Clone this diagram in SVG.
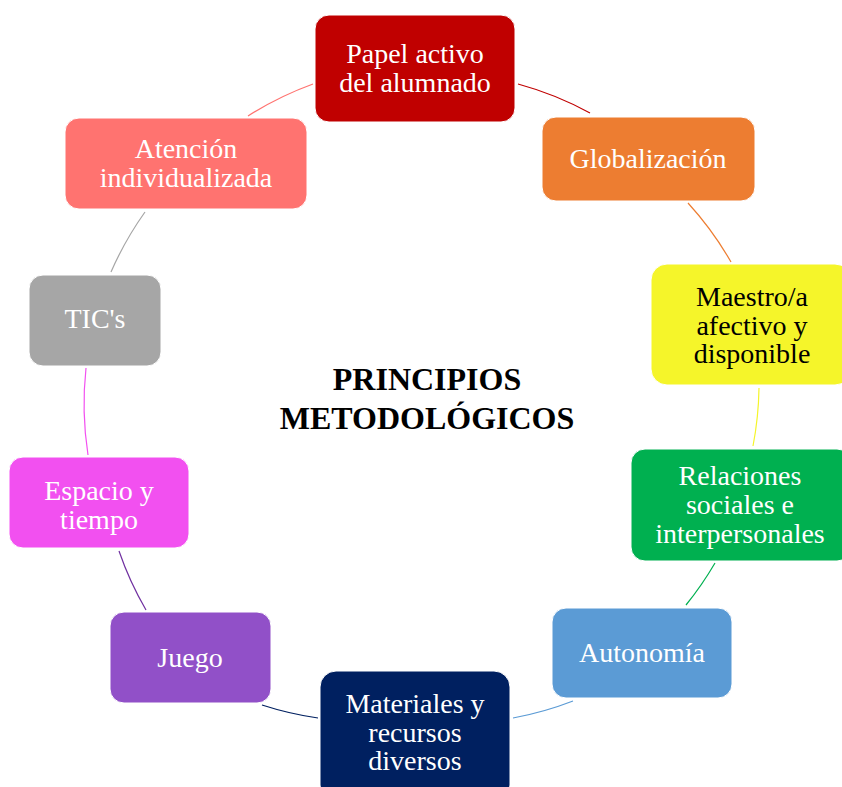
<svg xmlns="http://www.w3.org/2000/svg" width="842" height="787" viewBox="0 0 842 787">
<style>
.n{stroke:#ffffff;stroke-width:1}
.t{font-family:"Liberation Serif","Times New Roman",serif;font-size:28px;text-anchor:middle;fill:#ffffff}
.d{fill:#000000}
.c{fill:none;stroke-width:1.2}
.h{font-family:"Liberation Serif","Times New Roman",serif;font-size:32px;font-weight:bold;text-anchor:middle;fill:#000000}
</style>
<rect width="842" height="787" fill="#ffffff"/>
<g id="connectors">
<path class="c" stroke="#C00000" d="M518 84 A333 333 0 0 1 590 113"/>
<path class="c" stroke="#ED7D31" d="M688 203 A333 333 0 0 1 731 262"/>
<path class="c" stroke="#F5F52A" d="M759 388 A333 333 0 0 1 753 446"/>
<path class="c" stroke="#00B050" d="M715 563 A333 333 0 0 1 686 605"/>
<path class="c" stroke="#5B9BD5" d="M573 701 A333 333 0 0 1 513 718"/>
<path class="c" stroke="#002060" d="M318 718 A333 333 0 0 1 262 705"/>
<path class="c" stroke="#7030A0" d="M146 610 A333 333 0 0 1 119 551"/>
<path class="c" stroke="#F250F0" d="M88 455 A333 333 0 0 1 86 368"/>
<path class="c" stroke="#A6A6A6" d="M111 272 A333 333 0 0 1 145 212"/>
<path class="c" stroke="#FF7370" d="M248 116 A333 333 0 0 1 313 84"/>
</g>
<g id="center">
<text class="h" x="427" y="390">PRINCIPIOS</text>
<text class="h" x="427" y="429">METODOLÓGICOS</text>
</g>
<g id="n1">
<rect class="n" x="315" y="15" width="200" height="107" rx="14" fill="#C00000"/>
<text class="t" x="415" y="63">Papel activo</text>
<text class="t" x="415" y="92">del alumnado</text>
</g>
<g id="n2">
<rect class="n" x="542" y="117" width="213" height="84" rx="14" fill="#ED7D31"/>
<text class="t" x="648" y="168">Globalización</text>
</g>
<g id="n3">
<rect class="n" x="651" y="264" width="200" height="121" rx="16" fill="#F5F52A"/>
<text class="t d" x="752" y="306">Maestro/a</text>
<text class="t d" x="752" y="335">afectivo y</text>
<text class="t d" x="752" y="363">disponible</text>
</g>
<g id="n4">
<rect class="n" x="631" y="449" width="220" height="112" rx="14" fill="#00B050"/>
<text class="t" x="740" y="485">Relaciones</text>
<text class="t" x="740" y="514">sociales e</text>
<text class="t" x="740" y="543">interpersonales</text>
</g>
<g id="n5">
<rect class="n" x="552" y="608" width="180" height="90" rx="14" fill="#5B9BD5"/>
<text class="t" x="642" y="662">Autonomía</text>
</g>
<g id="n6">
<rect class="n" x="320" y="671" width="190" height="130" rx="16" fill="#002060"/>
<text class="t" x="415" y="713">Materiales y</text>
<text class="t" x="415" y="742">recursos</text>
<text class="t" x="415" y="770">diversos</text>
</g>
<g id="n7">
<rect class="n" x="110" y="612" width="161" height="91" rx="14" fill="#9150C8"/>
<text class="t" x="190" y="667">Juego</text>
</g>
<g id="n8">
<rect class="n" x="9" y="457" width="180" height="91" rx="14" fill="#F250F0"/>
<text class="t" x="99" y="500">Espacio y</text>
<text class="t" x="99" y="529">tiempo</text>
</g>
<g id="n9">
<rect class="n" x="29" y="275" width="132" height="91" rx="14" fill="#A6A6A6"/>
<text class="t" x="95" y="328">TIC's</text>
</g>
<g id="n10">
<rect class="n" x="65" y="118" width="242" height="91" rx="14" fill="#FF7370"/>
<text class="t" x="186" y="158">Atención</text>
<text class="t" x="186" y="187">individualizada</text>
</g>
</svg>
